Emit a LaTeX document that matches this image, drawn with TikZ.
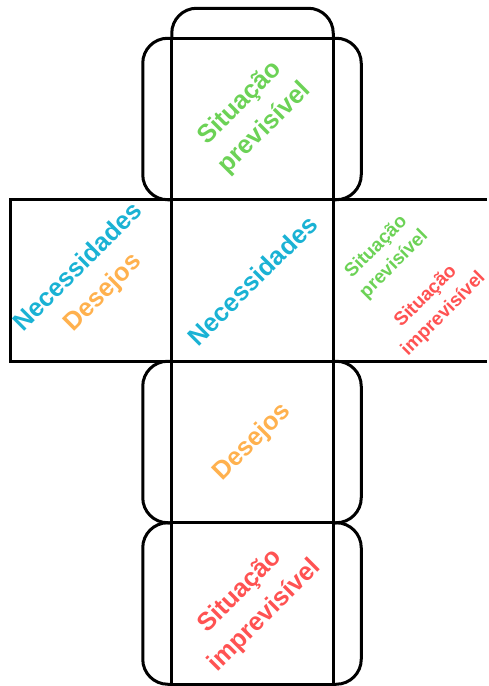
\documentclass[tikz,border=0pt]{standalone}
\usepackage{fontspec}
\setmainfont{Liberation Sans}
\usetikzlibrary{positioning}
\definecolor{necblue}{RGB}{26,178,212}
\definecolor{desorange}{RGB}{255,177,78}
\definecolor{prevgreen}{RGB}{108,210,86}
\definecolor{impred}{RGB}{255,82,82}

\begin{document}
\begin{tikzpicture}[x=1pt,y=1pt,node distance=161.5pt,on grid,
  face/.style={draw,line width=3pt,minimum size=161.5pt,outer sep=0pt,inner sep=0pt},
  flap/.style={line width=3pt,rounded corners=25pt},
  word/.style={rotate=45,align=center,font=\bfseries\fontsize{25.5}{35}\selectfont},
  smallword/.style={word,font=\bfseries\fontsize{19}{25}\selectfont}]
\useasboundingbox (0,0) rectangle (489,-686);
\node[face] (f_0) at (252.5,-119) {};
\node[face] (f_1) [below=of f_0] {};
\node[face] (f_2) [left=of f_1] {};
\node[face,draw=none] (f_3) [right=of f_1] {};
\node[face] (f_4) [below=of f_1] {};
\node[face] (f_5) [below=of f_4] {};
\draw[line width=3pt] (f_3.north west) -- ++(154,0)
                      (f_3.south west) -- ++(154,0);
% flaps
\draw[flap] (f_0.north west) -- ++(0,30) -| (f_0.north east);
\foreach \f in {f_0,f_4,f_5}{
  \draw[flap] (\f.north west) -- ++(-29,0) |- (\f.south west);
  \draw[flap] (\f.north east) -- ++(28,0) |- (\f.south east);
}
% texts
\node[yshift=3pt,word,text=prevgreen] (t_0) at (f_0) {Situação\\previsível};
\node[word,text=necblue] (t_1) at (f_1) {Necessidades};
\node[word] (t_2) at (f_2) {\textcolor{necblue}{Necessidades}\\\textcolor{desorange}{Desejos}};
\node[xshift=-4pt,smallword] (t_3) at (f_3) {\textcolor{prevgreen}{Situação}\\\textcolor{prevgreen}{previsível}\\[20pt]\textcolor{impred}{Situação}\\\textcolor{impred}{imprevisível}};
\node[word,text=desorange] (t_4) at (f_4) {Desejos};
\node[word,text=impred] (t_5) at (f_5) {Situação\\imprevisível};
\end{tikzpicture}
\end{document}
